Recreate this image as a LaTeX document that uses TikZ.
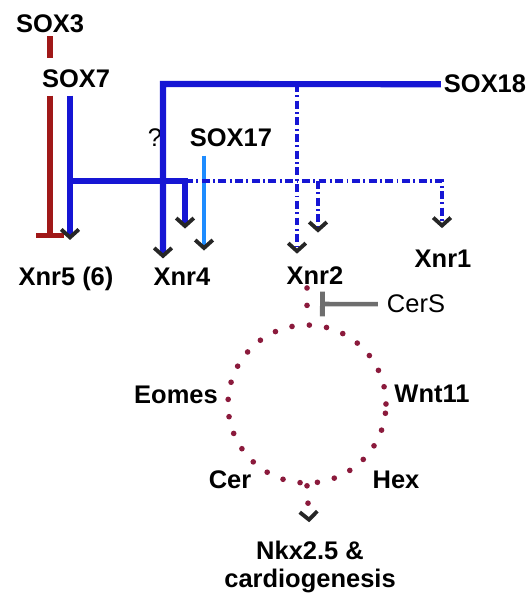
\documentclass[tikz,border=0pt]{standalone}
\usepackage{fontspec}
\setmainfont{Liberation Sans}
\usetikzlibrary{arrows.meta, positioning}
\usepackage{xcolor}
\definecolor{soxblue}{HTML}{1616D4}
\definecolor{soxlight}{HTML}{1E8CFF}
\definecolor{repred}{HTML}{A01818}
\definecolor{cersgrey}{HTML}{6E6E6E}
\definecolor{dotmaroon}{HTML}{8B1A3C}
\tikzset{
  gene/.style={font=\fontsize{14.5}{16}\selectfont\bfseries, inner sep=1.5pt, anchor=base},
  plain/.style={font=\fontsize{14.5}{16}\selectfont, inner sep=1.5pt, anchor=base},
  chev/.tip={Straight Barb[color=black!85, length=4.5pt, width=10pt, line width=2.2pt]},
  act/.style={draw=soxblue, line width=3pt, -chev},
  actlight/.style={draw=soxlight, line width=2.6pt, -chev},
  actdash/.style={draw=soxblue, line width=2.6pt, -chev,
                  dash pattern=on 4.5pt off 2pt on 1pt off 2pt},
  repress/.style={draw=repred, line width=3pt, -{Bar[width=16pt, line width=3pt]}},
  represslink/.style={draw=repred, line width=3pt},
  cersline/.style={draw=cersgrey, line width=2.6pt, -{Bar[width=14pt, line width=2.8pt]}},
  dots/.style={draw=dotmaroon, line width=3.2pt, line cap=round,
               dash pattern=on 0pt off 9.9pt},
  ring/.style={circle, dots, minimum size=3.16cm, inner sep=0pt},
}
\begin{document}
\begin{tikzpicture}[x=0.02cm, y=-0.02cm]
  \useasboundingbox (0,0) rectangle (530,597);

  % --- SOX factors ---
  \node[gene]  (sox3)  at (50, 33)  {SOX3};
  \node[gene]  (sox7)  at (76, 88)  {SOX7};
  \node[gene]  (sox17) at (231,147) {SOX17};
  \node[gene]  (sox18) at (485, 93) {SOX18};
  \node[plain] (query) at (155,147) {?};

  % --- Xnr targets ---
  \node[gene]  (xnr5) at (66, 286) {Xnr5 (6)};
  \node[gene]  (xnr4) at (182,286) {Xnr4};
  \node[gene]  (xnr2) at (315,285) {Xnr2};
  \node[gene]  (xnr1) at (443,268) {Xnr1};
  \node[plain] (cers) at (416,313) {CerS};

  % --- downstream loop ---
  \node[ring]  (loop)  at (307,404) {};
  \node[gene]  (eomes) at (176,403) {Eomes};
  \node[gene]  (wnt11) at (432,402) {Wnt11};
  \node[gene]  (cer)   at (230,488) {Cer};
  \node[gene]  (hex)   at (396,488) {Hex};
  \node[gene, anchor=north, align=center] (nkx) at (310,538) {Nkx2.5 \&\\cardiogenesis};

  % --- branch points ---
  \coordinate (j7)  at (70,181);
  \coordinate (j4)  at (185,181);
  \coordinate (c18) at (163,84);
  \coordinate (j2)  at (297,84);
  \coordinate (j2b) at (318,181);
  \coordinate (j1)  at (442,181);
  \coordinate (s17) at (204,155);
  \coordinate (cbar) at (320,304);

  % SOX3 -| Xnr5
  \draw[represslink, shorten >=5pt] (sox3.south) -- (sox3.south |- sox7.north);
  \draw[repress, shorten <=2.5pt, shorten >=15pt] (sox3.south |- sox7.south) -- (sox3.south |- xnr5.north);

  % SOX7 -> Xnr5, Xnr4
  \draw[act, shorten <=2.5pt, shorten >=14pt] (sox7.south -| j7) -- (j7 |- xnr5.north);
  \draw[act, shorten >=21pt] (j7) -- (j4) -- (j4 |- xnr4.north);

  % SOX18 -> Xnr4, Xnr2
  \draw[act, line width=3.5pt, shorten >=4pt] (sox18.west) -- (c18) -- (c18 |- xnr4.north);
  \draw[actdash, shorten >=6pt] (j2) -- (j2 |- xnr2.north);

  % SOX17 -> Xnr4, Xnr2, Xnr1
  \draw[actlight, shorten <=3pt, shorten >=8.5pt] (sox17.south -| s17) -- (s17 |- xnr4.north);
  \draw[actdash, shorten >=11pt] (j4) -- (j1) -- (j1 |- xnr1.north);
  \draw[actdash, shorten >=18pt] (j2b) -- (j2b |- xnr2.north);

  % CerS -| Xnr2
  \draw[cersline, shorten <=3.5pt] (cers.west) -- (cbar);

  % Xnr2 loop -> Nkx2.5
  \draw[dots] (loop.north |- xnr2.south) -- (loop.north);
  \draw[dots, -chev, shorten >=9pt] (loop.south) -- (nkx.north);

\end{tikzpicture}
\end{document}
